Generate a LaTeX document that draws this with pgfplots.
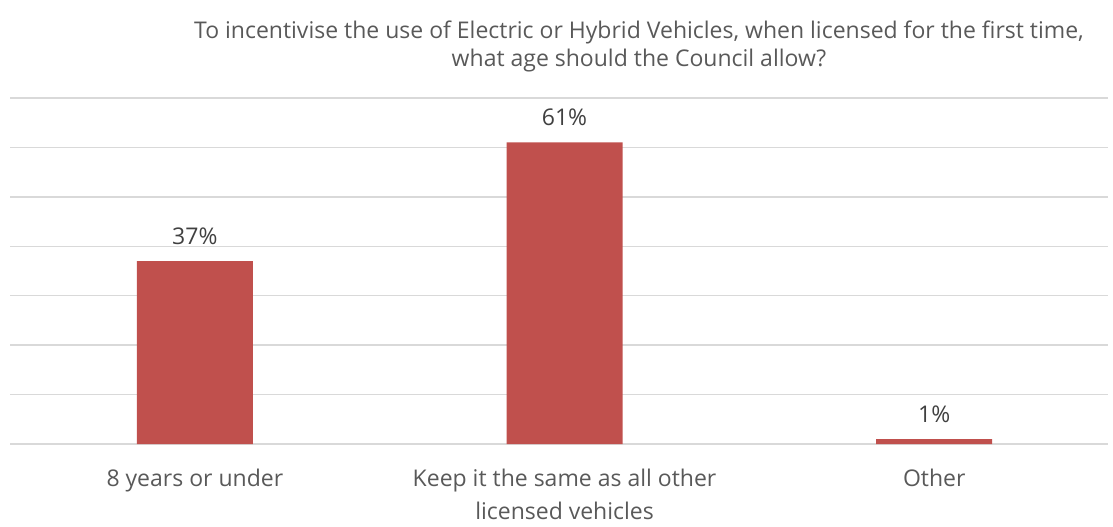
\documentclass[border=0pt]{standalone}
\usepackage{pgfplots}
\pgfplotsset{compat=1.18}
\usepackage{fontspec}
\setmainfont{Open Sans}
\definecolor{barred}{HTML}{C0504D}
\definecolor{gridgray}{HTML}{D9D9D9}
\definecolor{labelgray}{HTML}{595959}
\definecolor{valgray}{HTML}{404040}
\begin{document}
\begin{tikzpicture}[x=1pt,y=1pt]
\path[use as bounding box] (-10,-83) rectangle (1103,444);
\begin{axis}[
  at={(0,0)}, anchor=south west,
  scale only axis,
  width=1098pt, height=346pt,
  ymin=0, ymax=70,
  xmin=-0.5, xmax=2.47,
  ytick={0,10,...,70},
  yticklabels={},
  ymajorgrids,
  grid style={gridgray, line width=1.3pt},
  major tick length=0pt,
  axis line style={draw=none},
  xtick=data,
  xticklabels={8 years or under, Keep it the same as all other\\licensed vehicles, Other},
  xticklabel style={align=center, text=labelgray, font=\fontsize{23}{33}\selectfont, yshift=-21pt},
  /pgf/number format/assume math mode=true,
  ybar, bar width=116pt,
  nodes near coords={\pgfmathprintnumber{\pgfplotspointmeta}\%},
  every node near coord/.append style={text=valgray, font=\fontsize{23}{25}\selectfont, yshift=13pt},
  clip=false,
]
\addplot[fill=barred, draw=none] coordinates {(0,37) (1,61) (2,1)};
\end{axis}
\node[text=labelgray, align=center, font=\fontsize{23}{28}\selectfont] at (629,398)
  {To incentivise the use of Electric or Hybrid Vehicles, when licensed for the first time,\\what age should the Council allow?};
\end{tikzpicture}
\end{document}
